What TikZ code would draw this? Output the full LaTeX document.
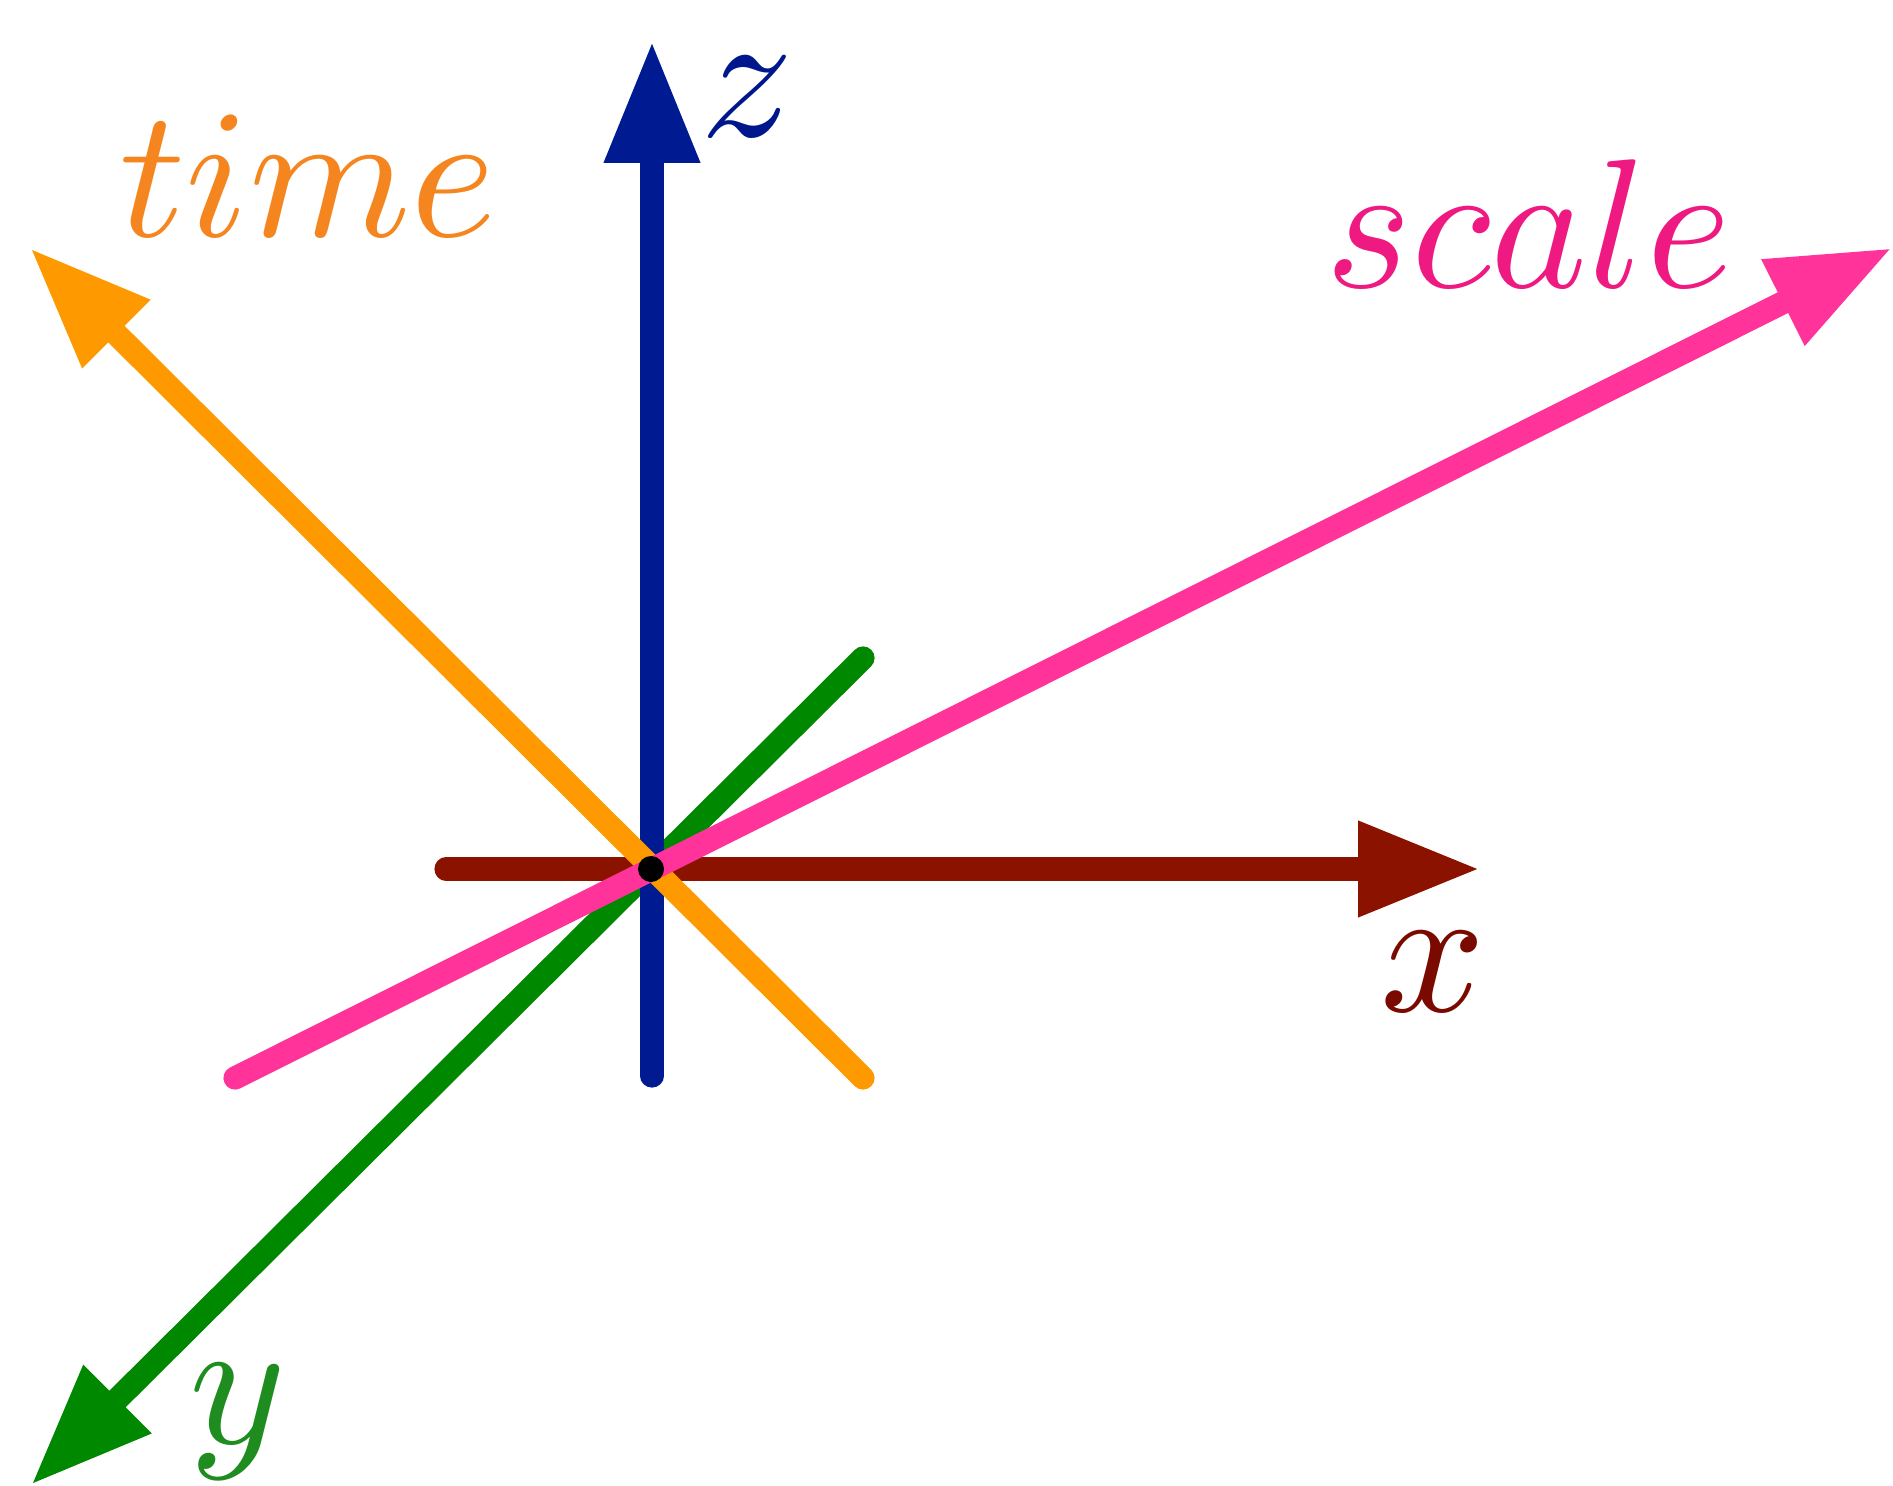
\documentclass[tikz,border=0pt]{standalone}
\usetikzlibrary{arrows.meta}
\definecolor{zblue}{RGB}{0,26,145}
\definecolor{ztext}{RGB}{0,22,140}
\definecolor{xbrown}{RGB}{140,18,0}
\definecolor{xtext}{RGB}{122,10,0}
\definecolor{torange}{RGB}{255,153,0}
\definecolor{ttext}{RGB}{245,134,31}
\definecolor{spink}{RGB}{255,51,153}
\definecolor{stext}{RGB}{238,26,130}
\definecolor{ygreen}{RGB}{0,136,0}
\definecolor{ytext}{RGB}{30,140,30}
\begin{document}
\begin{tikzpicture}[x=0.25pt,y=-0.25pt,
  axisline/.style={line width=5.8pt,line cap=round},
  axisarrow/.style={axisline,-{Triangle[length=30.5pt,width=22.5pt]}},
  lab/.style={inner sep=0pt,anchor=base,scale=4.6,font=\normalsize}]
\useasboundingbox (0,0) rectangle (1893,1486);
% coordinates
\coordinate (O) at (651,869);
\coordinate (ya) at (863,658);
\coordinate (yb) at (31,1485);
\coordinate (za) at (652,1076);
\coordinate (zb) at (652,41);
\coordinate (xa) at (446,869);
\coordinate (xb) at (1480,869);
\coordinate (ta) at (863,1078);
\coordinate (tb) at (30,248);
\coordinate (sa) at (235,1078);
\coordinate (sb) at (1892,248);
% axes
\draw[axisarrow,ygreen] (ya) -- (yb);
\draw[axisarrow,zblue] (za) -- (zb);
\draw[axisarrow,xbrown] (xa) -- (xb);
\draw[axisarrow,torange] (ta) -- (tb);
\draw[axisarrow,spink] (sa) -- (sb);
\node[circle,fill=black,inner sep=0pt,minimum size=6.5pt] (dot) at (O) {};
% labels
\node[lab,text=ztext] (zl) at (747,137) {$z$};
\node[lab,text=xtext] (xl) at (1433,1011) {$x$};
\node[lab,text=ytext] (yl) at (238,1443) {$y$};
\node[lab,text=ttext] (tl) at (308,237) {$time$};
\node[lab,text=stext] (sl) at (1529,288) {$scale$};
\end{tikzpicture}
\end{document}
